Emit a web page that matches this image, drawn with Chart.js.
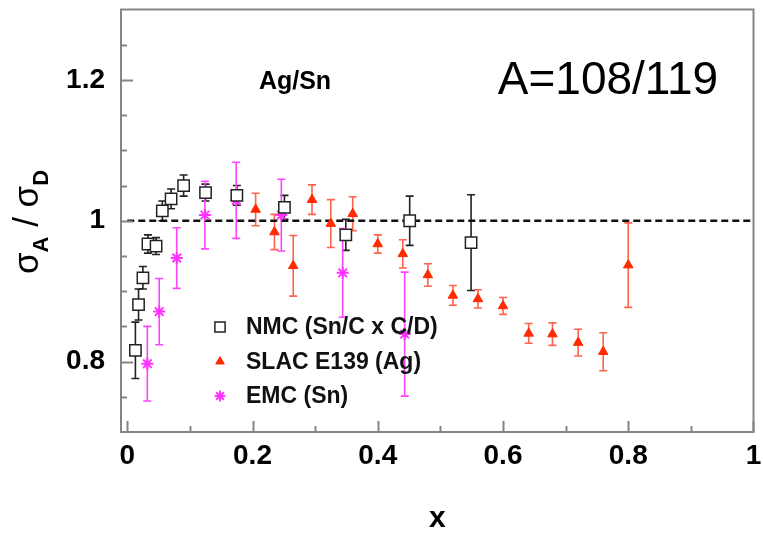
<!DOCTYPE html>
<html>
<head>
<meta charset="utf-8">
<script src="https://cdn.jsdelivr.net/npm/chart.js@4.4.1/dist/chart.umd.min.js"></script>
<style>
  html, body { margin: 0; padding: 0; background: #fff; }
</style>
</head>
<body>
<canvas id="ratioChart" width="763" height="535"></canvas>
<script>
// NMC (Sn/C x C/D) - open squares
const nmcX = [0.013, 0.018, 0.025, 0.033, 0.046, 0.056, 0.070, 0.090, 0.125, 0.175, 0.251, 0.349, 0.451, 0.549];
const nmcY = [0.816, 0.881, 0.919, 0.967, 0.964, 1.014, 1.031, 1.050, 1.040, 1.036, 1.019, 0.980, 1.000, 0.969];
const nmcErr = [0.040, 0.022, 0.016, 0.013, 0.012, 0.014, 0.014, 0.015, 0.012, 0.014, 0.017, 0.022, 0.035, 0.068];

// SLAC E139 (Ag) - red triangles
const slacX = [0.205, 0.235, 0.265, 0.295, 0.325, 0.360, 0.400, 0.440, 0.480, 0.520, 0.560, 0.600, 0.641, 0.679, 0.720, 0.760, 0.800];
const slacY = [1.016, 0.984, 0.936, 1.030, 0.996, 1.010, 0.967, 0.953, 0.923, 0.894, 0.889, 0.879, 0.840, 0.839, 0.827, 0.814, 0.937];
const slacErr = [0.023, 0.025, 0.043, 0.021, 0.034, 0.024, 0.013, 0.020, 0.016, 0.014, 0.013, 0.012, 0.014, 0.016, 0.019, 0.027, 0.060];

// EMC (Sn) - magenta asterisks
const emcX = [0.032, 0.051, 0.079, 0.124, 0.174, 0.246, 0.344, 0.443];
const emcY = [0.797, 0.871, 0.947, 1.008, 1.029, 1.008, 0.926, 0.839];
const emcErr = [0.053, 0.047, 0.043, 0.048, 0.054, 0.051, 0.063, 0.088];

// reference line at ratio 1
const refX = [0, 1];
const refY = [1, 1];

// axes
const xTicks = [0, 0.2, 0.4, 0.6, 0.8, 1];
const xTickLabels = ["0", "0.2", "0.4", "0.6", "0.8", "1"];
const yTicks = [0.8, 1, 1.2];
const yTickLabels = ["0.8", "1", "1.2"];

const FONT = "'Liberation Sans', Arial, Helvetica, sans-serif";

function pts(xs, ys) {
  return xs.map((x, i) => ({ x: x, y: ys[i] }));
}

// error bars, drawn under the markers
const errorBars = {
  id: "errorBars",
  beforeDatasetsDraw(chart) {
    const ctx = chart.ctx;
    const xs = chart.scales.x;
    const ys = chart.scales.y;
    chart.data.datasets.forEach((ds) => {
      if (!ds.yErr) return;
      ctx.save();
      ctx.strokeStyle = ds.errColor;
      ctx.lineWidth = 1.6;
      ds.data.forEach((p, i) => {
        const px = xs.getPixelForValue(p.x);
        const top = ys.getPixelForValue(p.y + ds.yErr[i]);
        const bot = ys.getPixelForValue(p.y - ds.yErr[i]);
        ctx.beginPath();
        ctx.moveTo(px, top);
        ctx.lineTo(px, bot);
        ctx.moveTo(px - 4, top);
        ctx.lineTo(px + 4, top);
        ctx.moveTo(px - 4, bot);
        ctx.lineTo(px + 4, bot);
        ctx.stroke();
      });
      ctx.restore();
    });
  },
};

// frame, inward ticks, texts and legend
const decorations = {
  id: "decorations",
  afterDraw(chart) {
    const ctx = chart.ctx;
    const a = chart.chartArea;
    const xs = chart.scales.x;
    const ys = chart.scales.y;

    ctx.save();
    ctx.strokeStyle = "#858585";
    ctx.lineWidth = 2;
    ctx.strokeRect(a.left, a.top, a.right - a.left, a.bottom - a.top);

    // y ticks (left side)
    ctx.beginPath();
    for (let v = 0.75; v < 1.3; v += 0.05) {
      const py = Math.round(ys.getPixelForValue(v)) + 0.5;
      const major = yTicks.some((t) => Math.abs(t - v) < 1e-6);
      ctx.moveTo(a.left, py);
      ctx.lineTo(a.left + (major ? 12 : 6), py);
    }
    // x ticks (bottom side)
    for (let v = 0; v <= 1.0001; v += 0.1) {
      const px = Math.round(xs.getPixelForValue(v)) + 0.5;
      const major = xTicks.some((t) => Math.abs(t - v) < 1e-6);
      ctx.moveTo(px, a.bottom);
      ctx.lineTo(px, a.bottom - (major ? 11 : 6));
    }
    ctx.stroke();

    // panel texts
    ctx.fillStyle = "#000";
    ctx.textAlign = "center";
    ctx.textBaseline = "middle";
    ctx.font = "bold 25px " + FONT;
    ctx.fillText("Ag/Sn", 295, 82);
    ctx.font = "46px " + FONT;
    ctx.fillText("A=108/119", 608, 81);

    // y title: sigma_A / sigma_D
    ctx.save();
    ctx.translate(38, 222);
    ctx.rotate(-Math.PI / 2);
    const parts = [
      { t: "\u03C3", f: "35px " + FONT, dy: 0 },
      { t: "A", f: "bold 22px " + FONT, dy: 10 },
      { t: " / ", f: "35px " + FONT, dy: 0 },
      { t: "\u03C3", f: "35px " + FONT, dy: 0 },
      { t: "D", f: "bold 22px " + FONT, dy: 10 },
    ];
    let total = 0;
    parts.forEach((p) => {
      ctx.font = p.f;
      p.w = ctx.measureText(p.t).width;
      total += p.w;
    });
    let cx = -total / 2;
    ctx.textAlign = "left";
    ctx.textBaseline = "alphabetic";
    parts.forEach((p) => {
      ctx.font = p.f;
      ctx.fillText(p.t, cx, p.dy);
      cx += p.w;
    });
    ctx.restore();

    // legend
    const rows = chart.data.datasets.filter((d) => d.yErr);
    rows.forEach((ds, i) => {
      const lx = a.left + 99;
      const ly = 327 + i * 34.5;
      ctx.save();
      ctx.fillStyle = ds.backgroundColor;
      ctx.strokeStyle = ds.borderColor;
      ctx.lineWidth = ds.borderWidth;
      Chart.helpers.drawPoint(ctx, {
        pointStyle: ds.pointStyle,
        radius: ds.pointRadius * 0.9,
        borderWidth: ds.borderWidth,
        rotation: 0,
      }, lx, ly);
      ctx.restore();
      ctx.fillStyle = "#111";
      ctx.textAlign = "left";
      ctx.textBaseline = "middle";
      ctx.font = "bold 23px " + FONT;
      ctx.fillText(ds.label, a.left + 125, ly + 1);
    });
    ctx.restore();
  },
};

new Chart(document.getElementById("ratioChart"), {
  type: "scatter",
  data: {
    datasets: [
      {
        label: "NMC (Sn/C x C/D)",
        data: pts(nmcX, nmcY),
        yErr: nmcErr,
        errColor: "#222",
        pointStyle: "rect",
        pointRadius: 8,
        backgroundColor: "#fff",
        borderColor: "#222",
        borderWidth: 1.5,
        order: 1,
      },
      {
        label: "SLAC E139 (Ag)",
        data: pts(slacX, slacY),
        yErr: slacErr,
        errColor: "rgba(255, 60, 30, 0.8)",
        pointStyle: "triangle",
        pointRadius: 5.5,
        backgroundColor: "#ff2a00",
        borderColor: "#ff2a00",
        borderWidth: 1,
        order: 2,
      },
      {
        label: "EMC (Sn)",
        data: pts(emcX, emcY),
        yErr: emcErr,
        errColor: "#ff44ff",
        pointStyle: "star",
        pointRadius: 6,
        backgroundColor: "#ff33ff",
        borderColor: "#ff33ff",
        borderWidth: 2,
        order: 3,
      },
      {
        type: "line",
        label: "ref",
        data: pts(refX, refY),
        borderColor: "#111",
        borderWidth: 2.5,
        borderDash: [7, 4],
        pointRadius: 0,
        fill: false,
        order: 10,
      },
    ],
  },
  options: {
    responsive: false,
    animation: false,
    layout: { padding: { top: 7, right: 4, left: 0, bottom: 0 } },
    plugins: {
      legend: { display: false },
      tooltip: { enabled: false },
    },
    scales: {
      x: {
        type: "linear",
        min: -0.01,
        max: 1,
        grid: { display: false, drawTicks: false },
        border: { display: false },
        afterBuildTicks: (s) => { s.ticks = xTicks.map((v) => ({ value: v })); },
        afterFit: (s) => { s.height = 103; s.paddingLeft = 0; s.paddingRight = 0; },
        ticks: {
          padding: 7,
          color: "#000",
          font: { family: FONT, size: 28, weight: "bold" },
          callback: (v) => xTickLabels[xTicks.findIndex((t) => Math.abs(t - v) < 1e-6)],
        },
        title: {
          display: true,
          text: "x",
          color: "#000",
          font: { family: FONT, size: 30, weight: "bold", lineHeight: 1 },
          padding: { top: 0, bottom: 1 },
        },
      },
      y: {
        type: "linear",
        min: 0.7,
        max: 1.3,
        grid: { display: false },
        border: { display: false },
        afterBuildTicks: (s) => { s.ticks = yTicks.map((v) => ({ value: v })); },
        afterFit: (s) => { s.width = 121; s.paddingTop = 0; s.paddingBottom = 0; },
        ticks: {
          padding: 8,
          color: "#000",
          font: { family: FONT, size: 28, weight: "bold" },
          callback: (v) => yTickLabels[yTicks.findIndex((t) => Math.abs(t - v) < 1e-6)],
        },
      },
    },
  },
  plugins: [errorBars, decorations],
});
</script>
</body>
</html>
